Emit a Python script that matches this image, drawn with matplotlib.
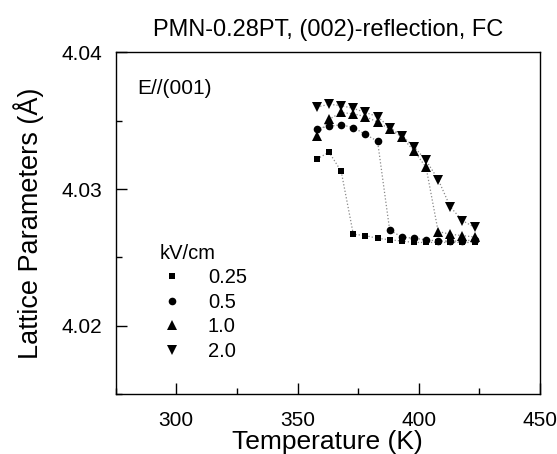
import numpy as np
import matplotlib.pyplot as plt
from matplotlib.ticker import MultipleLocator

plt.rcParams['font.family'] = ['Liberation Sans', 'DejaVu Sans']

# temperature steps (K)
temps = [358, 363, 368, 373, 378, 383, 388, 393, 398, 403, 408, 413, 418, 423]

# lattice parameter (A) for each field, kV/cm
c_025 = [4.0322, 4.0327, 4.0313, 4.0267, 4.0266, 4.0264, 4.0263, 4.0262,
         4.0261, 4.0261, 4.0261, 4.0261, 4.0261, 4.0261]
c_05 = [4.0344, 4.0346, 4.0347, 4.0345, 4.0340, 4.0335, 4.0270, 4.0265,
        4.0264, 4.0263, 4.0262, 4.0262, 4.0262, 4.0263]
c_10 = [4.0339, 4.0351, 4.0356, 4.0355, 4.0353, 4.0349, 4.0344, 4.0338,
        4.0328, 4.0316, 4.0269, 4.0267, 4.0266, 4.0265]
c_20 = [4.0360, 4.0362, 4.0361, 4.0359, 4.0356, 4.0353, 4.0345, 4.0339,
        4.0331, 4.0321, 4.0307, 4.0287, 4.0277, 4.0272]

fields = ['0.25', '0.5', '1.0', '2.0']
series = [c_025, c_05, c_10, c_20]
markers = ['s', 'o', '^', 'v']
msizes = [5.0, 5.5, 7.0, 7.0]

fig = plt.figure(figsize=(5.57, 4.54), dpi=100)
ax = fig.add_axes([0.2077, 0.1315, 0.7618, 0.7533])

for lab, ys, mk, ms in zip(fields, series, markers, msizes):
    ax.plot(temps, ys, ':', color='#888888', lw=0.9, zorder=1)
    ax.plot(temps, ys, mk, color='black', ms=ms, mew=0, ls='none', label=lab, zorder=2)

ax.set_xlim(275, 450)
ax.set_ylim(4.015, 4.04)
ax.xaxis.set_major_locator(MultipleLocator(50))
ax.xaxis.set_minor_locator(MultipleLocator(25))
ax.yaxis.set_major_locator(MultipleLocator(0.01))
ax.yaxis.set_minor_locator(MultipleLocator(0.005))
ax.yaxis.set_major_formatter(plt.FormatStrFormatter('%.2f'))
ax.tick_params(which='both', direction='in', top=False, right=False, width=1)
ax.tick_params(which='major', length=8, labelsize=15, pad=10)
ax.tick_params(axis='x', which='major', pad=12)
ax.tick_params(which='minor', length=4.5)
for s in ax.spines.values():
    s.set_linewidth(1.0)

ax.set_xlabel('Temperature (K)', fontsize=19, labelpad=0)
ax.set_ylabel('Lattice Parameters (Å)', fontsize=19.5, labelpad=12)
ax.set_title('PMN-0.28PT, (002)-reflection, FC', fontsize=17, pad=12)

ax.text(0.05, 0.895, 'E//(001)', transform=ax.transAxes, fontsize=15,
        va='center', ha='left')

leg = ax.legend(title='kV/cm', loc='upper left', bbox_to_anchor=(0.07, 0.482),
                frameon=False, fontsize=14.5, title_fontsize=14.5,
                handlelength=1.2, handletextpad=1.2, labelspacing=0.28,
                borderpad=0.2, alignment='left')

fig.savefig('out.png', dpi=100)
